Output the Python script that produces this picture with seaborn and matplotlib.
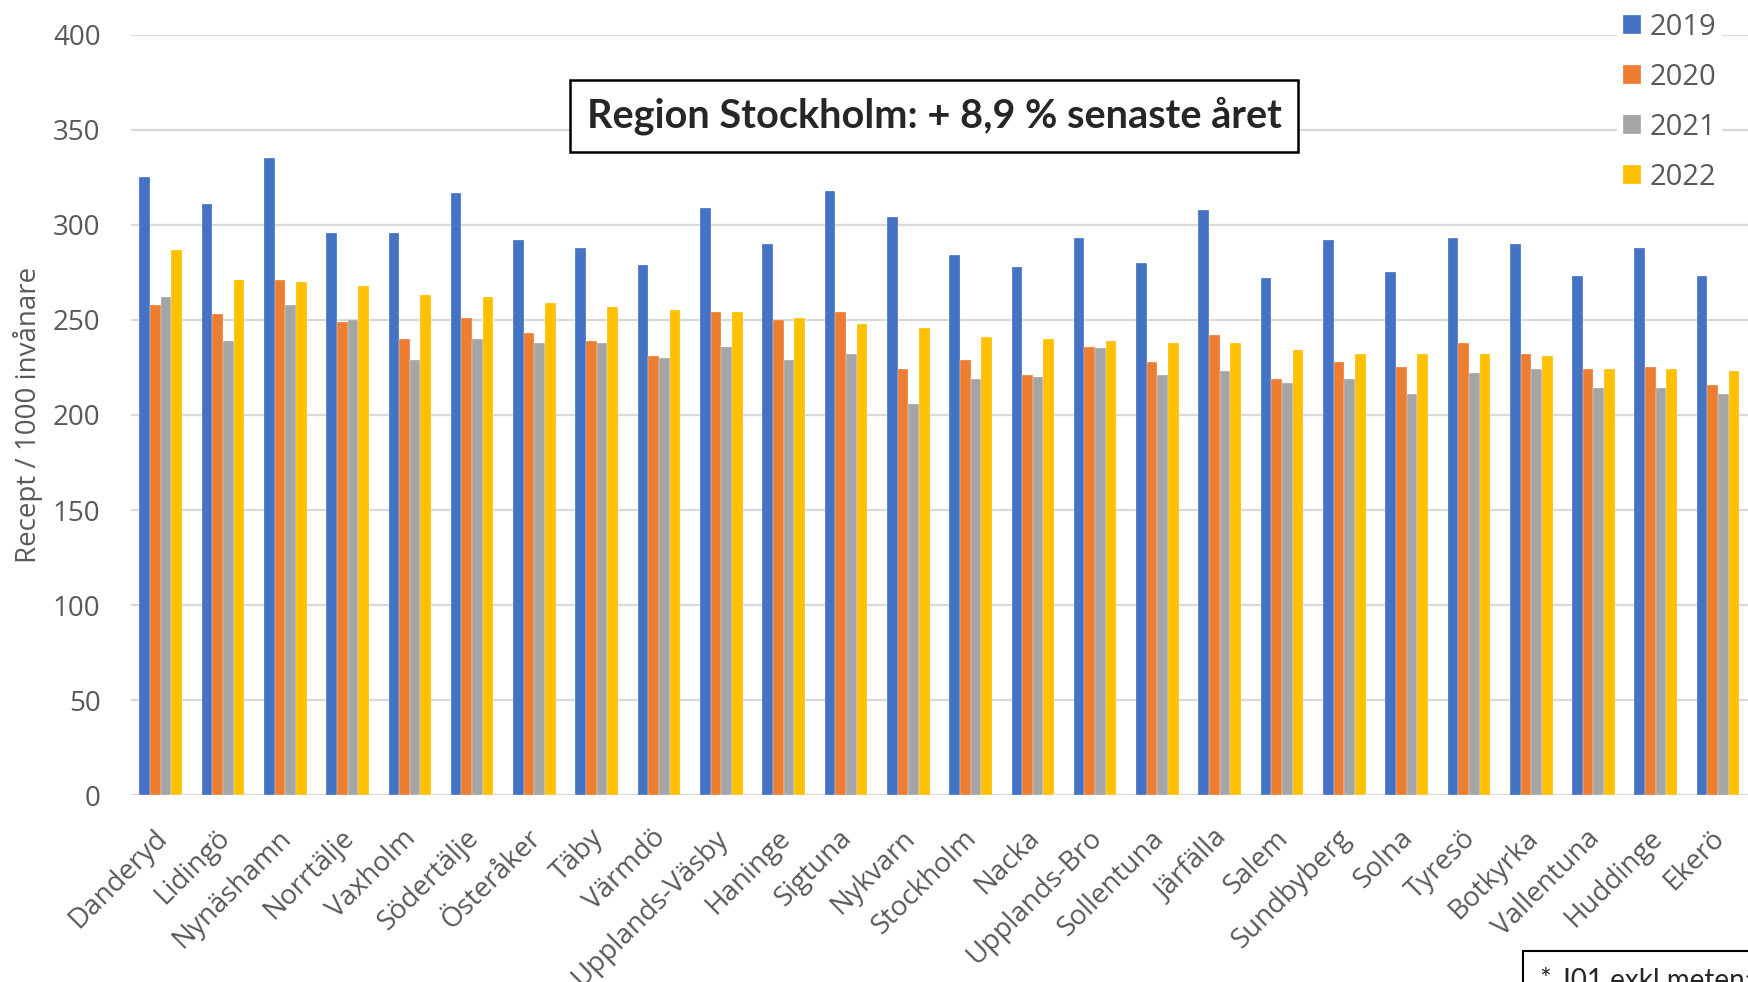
import numpy as np
import pandas as pd
import seaborn as sns
import matplotlib.pyplot as plt
from matplotlib.transforms import ScaledTranslation

# Data (recept per 1000 invånare)
kommuner = ["Danderyd", "Lidingö", "Nynäshamn", "Norrtälje", "Vaxholm", "Södertälje",
            "Österåker", "Täby", "Värmdö", "Upplands-Väsby", "Haninge", "Sigtuna",
            "Nykvarn", "Stockholm", "Nacka", "Upplands-Bro", "Sollentuna", "Järfälla",
            "Salem", "Sundbyberg", "Solna", "Tyresö", "Botkyrka", "Vallentuna",
            "Huddinge", "Ekerö"]
years = ["2019", "2020", "2021", "2022"]

v2019 = [325, 311, 335, 296, 296, 317, 292, 288, 279, 309, 290, 318,
         304, 284, 278, 293, 280, 308, 272, 292, 275, 293, 290, 273, 288, 273]
v2020 = [258, 253, 271, 249, 240, 251, 243, 239, 231, 254, 250, 254,
         224, 229, 221, 236, 228, 242, 219, 228, 225, 238, 232, 224, 225, 216]
v2021 = [262, 239, 258, 250, 229, 240, 238, 238, 230, 236, 229, 232,
         206, 219, 220, 235, 221, 223, 217, 219, 211, 222, 224, 214, 214, 211]
v2022 = [287, 271, 270, 268, 263, 262, 259, 257, 255, 254, 251, 248,
         246, 241, 240, 239, 238, 238, 234, 232, 232, 232, 231, 224, 224, 223]

colors = ["#4472C4", "#ED7D31", "#A5A5A5", "#FFC000"]

df = pd.DataFrame({
    "kommun": kommuner * 4,
    "year": np.repeat(years, len(kommuner)),
    "value": v2019 + v2020 + v2021 + v2022,
})

sns.set_style("white")
plt.rcParams["font.family"] = ["Open Sans", "DejaVu Sans"]
grey = "#595959"

fig = plt.figure(figsize=(17.48, 9.82), dpi=100)
ax = fig.add_axes([0.075, 0.1904, 0.925, 0.774])

sns.barplot(data=df, x="kommun", y="value", hue="year", order=kommuner,
            hue_order=years, palette=colors, saturation=1, width=0.684,
            edgecolor="white", linewidth=0.2, errorbar=None, ax=ax)

ax.set_xlim(-0.474, 25.48)
ax.set_ylim(0, 400)
ax.set_yticks(range(0, 401, 50))
ax.yaxis.grid(True, color="#d9d9d9", linewidth=1.6)
ax.set_axisbelow(True)
for s in ax.spines.values():
    s.set_visible(False)

ax.set_xlabel("")
ax.set_ylabel("")
ax.tick_params(axis="y", length=0, pad=22, labelsize=20, labelcolor=grey)
ax.tick_params(axis="x", length=0, pad=21, labelsize=20, labelcolor=grey)
ax.set_xticks(range(len(kommuner)))
ax.set_xticklabels(kommuner, rotation=45, ha="right", va="top", rotation_mode="anchor")
offset = ScaledTranslation(-7.5 / 100, 0, fig.dpi_scale_trans)
for lbl in ax.get_xticklabels():
    lbl.set_transform(lbl.get_transform() + offset)

fig.text(0.016, 0.577, "Recept / 1000 invånare", rotation=90, ha="center",
         va="center", fontsize=20, color=grey)

handles, labels = ax.get_legend_handles_labels()
ax.legend(handles, labels, loc="upper right", bbox_to_anchor=(0.9935, 1.008),
          bbox_transform=fig.transFigure, frameon=True, facecolor="white",
          edgecolor="none", framealpha=1, fontsize=21, labelcolor=grey,
          handlelength=0.62, handleheight=0.62, handletextpad=0.3,
          labelspacing=0.72, borderpad=0.2)

fig.text(0.5345, 0.882, "Region Stockholm: + 8,9 % senaste året",
         ha="center", va="center", fontsize=28.5, fontweight="bold",
         family=["Lato", "DejaVu Sans"],
         bbox=dict(boxstyle="square,pad=0.42", facecolor="white",
                   edgecolor="black", linewidth=1.8))

fig.text(0.881, 0.0143, "* J01 exkl metenamin", ha="left", va="top",
         fontsize=20, family=["Lato", "DejaVu Sans"],
         bbox=dict(boxstyle="square,pad=0.6", facecolor="white",
                   edgecolor="black", linewidth=1.5))

fig.savefig("out.png", dpi=100)
